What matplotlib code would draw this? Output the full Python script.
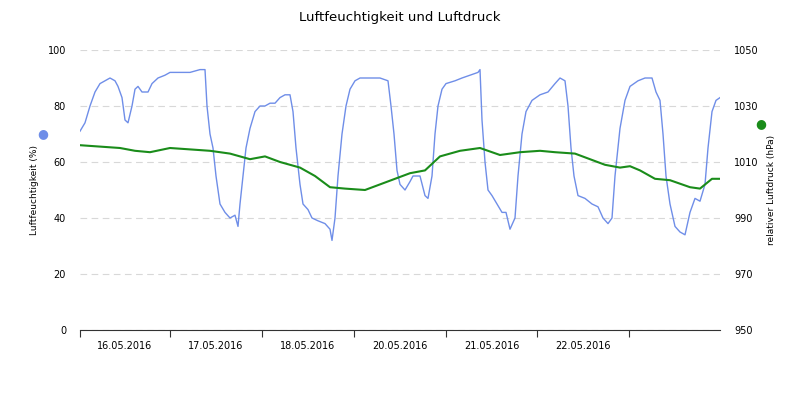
import matplotlib
matplotlib.use("Agg")
import matplotlib.pyplot as plt
import numpy as np

# humidity trace: pixel x -> %
hum_px = [80,85,90,95,100,105,110,115,118,122,125,128,132,135,138,142,148,152,158,165,170,180,190,200,205,207,210,213,216,220,225,230,235,238,240,243,246,250,255,260,265,270,275,280,285,290,293,296,300,303,308,312,318,325,330,332,335,338,342,346,350,355,360,370,380,388,391,394,397,400,405,410,413,416,420,425,428,432,435,438,442,446,455,462,470,478,480,482,485,488,492,497,502,506,510,515,518,522,526,532,540,548,555,560,565,568,571,574,578,585,592,598,603,608,612,615,620,625,630,638,645,652,656,660,663,666,670,675,680,685,690,695,700,705,708,712,716,720]
hum = [71,74,80,85,88,89,90,89,87,83,75,74,80,86,87,85,85,88,90,91,92,92,92,93,93,80,70,65,55,45,42,40,41,37,45,55,65,72,78,80,80,81,81,83,84,84,78,65,52,45,43,40,39,38,36,32,40,55,70,80,86,89,90,90,90,89,80,70,57,52,50,53,55,55,55,48,47,55,70,80,86,88,89,90,91,92,93,75,60,50,48,45,42,42,36,40,55,70,78,82,84,85,88,90,89,80,65,55,48,47,45,44,40,38,40,55,72,82,87,89,90,90,85,82,70,55,45,37,35,34,42,47,46,52,65,78,82,83]
pres_px = [80,100,120,135,150,170,190,210,230,250,265,280,300,315,330,345,365,380,395,410,425,440,460,480,500,520,540,555,575,590,605,620,630,640,655,670,690,700,712,720]
pres = [1016,1015.5,1015,1014,1013.5,1015,1014.5,1014,1013,1011,1012,1010,1008,1005,1001,1000.5,1000,1002,1004,1006,1007,1012,1014,1015,1012.5,1013.5,1014,1013.5,1013,1011,1009,1008,1008.5,1007,1004,1003.5,1001,1000.5,1004,1004]
tick_px = [80,170,262,354,446,537,629]
date_labels = ["16.05.2016","17.05.2016","18.05.2016","20.05.2016","21.05.2016","22.05.2016"]

fig = plt.figure(figsize=(8,4), dpi=100)
ax = fig.add_axes([80/800, 70/400, 640/800, 280/400])
ax.set_xlim(80,720); ax.set_ylim(0,100)
ax.plot(hum_px, hum, color="#6f8ee8", lw=1)
ax.set_yticks([0,20,40,60,80,100])
ax.grid(axis="y", color="#d8d8d8", ls=(0,(6,4)), lw=0.8)
ax.set_axisbelow(True)
for s in ["top","left","right"]:
    ax.spines[s].set_visible(False)
ax.spines["bottom"].set_color("#333333")
ax.set_xticks(tick_px); ax.set_xticklabels([])
ax.tick_params(axis="x", length=5, color="#333333")
ax.tick_params(axis="y", length=0, labelsize=7, pad=10)
for i, lab in enumerate(date_labels):
    ax.text((tick_px[i]+tick_px[i+1])/2, -4, lab, ha="center", va="top", fontsize=7)
ax.set_ylabel("Luftfeuchtigkeit (%)", fontsize=6.5, labelpad=6)
ax2 = ax.twinx()
ax2.set_ylim(950,1050)
ax2.plot(pres_px, pres, color="#1a8c1a", lw=1.5)
ax2.set_yticks([950,970,990,1010,1030,1050])
ax2.tick_params(axis="y", length=0, labelsize=7, pad=10)
for s in ["top","left","right","bottom"]:
    ax2.spines[s].set_visible(False)
ax2.set_ylabel("relativer Luftdruck (hPa)", fontsize=6.5, labelpad=6)
fig.text(43/800, 1-134/400, "●", color="#6f8ee8", fontsize=9, ha="center", va="center")
fig.text(761/800, 1-124/400, "●", color="#1a8c1a", fontsize=9, ha="center", va="center")
fig.text(0.5, 1-18/400, "Luftfeuchtigkeit und Luftdruck", ha="center", va="center", fontsize=9.5)
fig.savefig("out.png", dpi=100)
